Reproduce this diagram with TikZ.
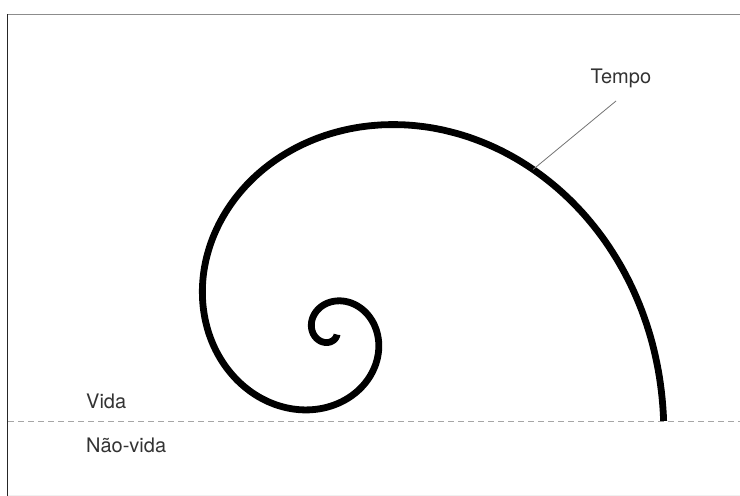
\documentclass[tikz,border=0pt]{standalone}
\usepackage{fontspec}
\setmainfont{TeX Gyre Heros}
\begin{document}
\begin{tikzpicture}[x=1pt,y=1pt,
  lbl/.style={anchor=base west, inner sep=0pt, text=black!80, font=\fontsize{20}{24}\selectfont},
  spiralline/.style={line width=6.8pt, black},
  leader/.style={line width=0.8pt, black!55},
  lifeline/.style={line width=0.9pt, black!35, dash pattern=on 6pt off 4pt}]
\useasboundingbox (0,0) rectangle (740,496);
\clip (0,0) rectangle (740,496);
% frame
\draw[line width=1.6pt, black!45] (7.5,481.5) -- (745,481.5);
\draw[line width=1pt, black!85] (7.5,481.5) -- (7.5,-5);
\draw[line width=0.8pt, black!6] (7.5,1) -- (745,1);
% life / non-life boundary
\coordinate (bl) at (8,75);
\coordinate (br) at (740,75);
\draw[lifeline] (bl) -- (br);
% golden spiral
\draw[spiralline] plot[domain=-15.1:693, samples=600, variable=\t]
  ({330 + 349*exp(-0.005346*(\t+17))*cos(\t)}, {165 + 349*exp(-0.005346*(\t+17))*sin(\t)});
% labels
\node[lbl] (vida) at (86,87) {Vida};
\node[lbl] (naovida) at (86,43.5) {Não-vida};
\node[lbl] (tempo) at (590.5,412) {Tempo};
\coordinate (onspiral) at ({330 + 349*exp(-0.005346*(38.5+17))*cos(38.5)}, {165 + 349*exp(-0.005346*(38.5+17))*sin(38.5)});
\coordinate (tempofoot) at (616,395);
\draw[leader] (onspiral) -- (tempofoot);
\end{tikzpicture}
\end{document}
